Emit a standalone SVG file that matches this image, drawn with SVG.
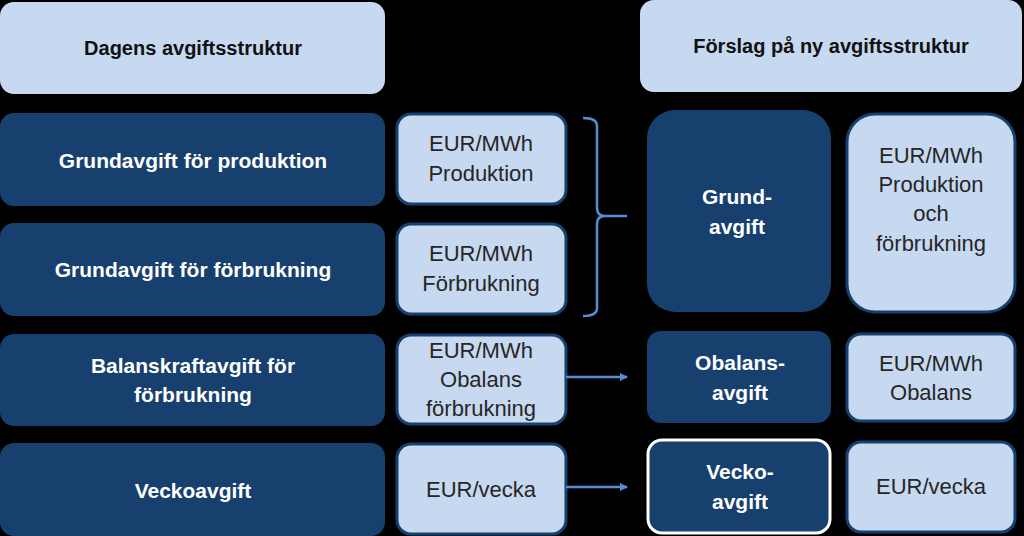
<svg xmlns="http://www.w3.org/2000/svg" width="1024" height="536" viewBox="0 0 1024 536">
<defs>
<style>
.hd{fill:#C6D9F1;}
.dk{fill:#17406F;}
.lt{fill:#C6D9F1;stroke:#17406F;stroke-width:3;}
.tw{font-family:"Liberation Sans",Arial,sans-serif;font-weight:bold;font-size:21px;fill:#fff;text-anchor:middle;}
.tb{font-family:"Liberation Sans",Arial,sans-serif;font-weight:bold;font-size:20px;fill:#111;text-anchor:middle;}
.tl{font-family:"Liberation Sans",Arial,sans-serif;font-size:22px;fill:#262626;text-anchor:middle;}
.cn{fill:none;stroke:#558ED5;stroke-width:2.5;}
</style>
<marker id="ah" markerWidth="8" markerHeight="8" refX="7" refY="4" orient="auto" markerUnits="userSpaceOnUse"><path d="M0,0 L8,4 L0,8 Z" fill="#558ED5"/></marker>
</defs>
<rect width="1024" height="536" fill="#000"/>
<g id="h1"><rect class="hd" x="0" y="2" width="385" height="92" rx="14"/><text class="tb" x="193" y="55">Dagens avgiftsstruktur</text></g>
<g id="h2"><rect class="hd" x="640" y="0" width="382" height="92" rx="14"/><text class="tb" x="831" y="53">Förslag på ny avgiftsstruktur</text></g>
<g id="n1"><rect class="dk" x="0" y="113" width="385" height="93" rx="14"/><text class="tw" x="193" y="168">Grundavgift för produktion</text></g>
<g id="n2"><rect class="dk" x="0" y="223" width="385" height="93" rx="14"/><text class="tw" x="193" y="277">Grundavgift för förbrukning</text></g>
<g id="n3"><rect class="dk" x="0" y="334" width="385" height="92" rx="14"/><text class="tw" x="193" y="373">Balanskraftavgift för</text><text class="tw" x="193" y="402">förbrukning</text></g>
<g id="n4"><rect class="dk" x="0" y="443" width="385" height="93" rx="14"/><text class="tw" x="193" y="498">Veckoavgift</text></g>
<g id="l1"><rect class="lt" x="397" y="114" width="169" height="90" rx="14"/><text class="tl" x="481" y="151">EUR/MWh</text><text class="tl" x="481" y="181">Produktion</text></g>
<g id="l2"><rect class="lt" x="397" y="224" width="169" height="90" rx="14"/><text class="tl" x="481" y="261">EUR/MWh</text><text class="tl" x="481" y="291">Förbrukning</text></g>
<g id="l3"><rect class="lt" x="397" y="335" width="169" height="89" rx="14"/><text class="tl" x="481" y="358">EUR/MWh</text><text class="tl" x="481" y="387">Obalans</text><text class="tl" x="481" y="416">förbrukning</text></g>
<g id="l4"><rect class="lt" x="397" y="444" width="169" height="90" rx="14"/><text class="tl" x="481" y="497">EUR/vecka</text></g>
<g id="r1"><rect class="dk" x="647" y="110" width="184" height="202" rx="28"/><text class="tw" x="737" y="204">Grund-</text><text class="tw" x="737" y="234">avgift</text></g>
<g id="r2"><rect class="dk" x="647" y="331" width="184" height="92" rx="14"/><text class="tw" x="740" y="370">Obalans-</text><text class="tw" x="740" y="400">avgift</text></g>
<g id="r3"><rect class="dk" x="648" y="440" width="182" height="93" rx="14" stroke="#fff" stroke-width="3"/><text class="tw" x="740" y="479">Vecko-</text><text class="tw" x="740" y="509">avgift</text></g>
<g id="s1"><rect class="lt" x="847" y="114" width="168" height="198" rx="28"/><text class="tl" x="931" y="163">EUR/MWh</text><text class="tl" x="931" y="192">Produktion</text><text class="tl" x="931" y="221">och</text><text class="tl" x="931" y="251">förbrukning</text></g>
<g id="s2"><rect class="lt" x="847" y="334" width="168" height="87" rx="14"/><text class="tl" x="931" y="371">EUR/MWh</text><text class="tl" x="931" y="400">Obalans</text></g>
<g id="s3"><rect class="lt" x="847" y="442" width="168" height="90" rx="14"/><text class="tl" x="931" y="494">EUR/vecka</text></g>
<g id="connectors">
<path class="cn" d="M583,118 Q597,118 597,126 L597,208 Q597,216 605,216 Q597,216 597,224 L597,308 Q597,316 583,316"/>
<line class="cn" x1="605" y1="216" x2="627" y2="216"/>
<line class="cn" x1="566" y1="377" x2="627" y2="377" marker-end="url(#ah)"/>
<line class="cn" x1="566" y1="487" x2="627" y2="487" marker-end="url(#ah)"/>
</g>
</svg>
